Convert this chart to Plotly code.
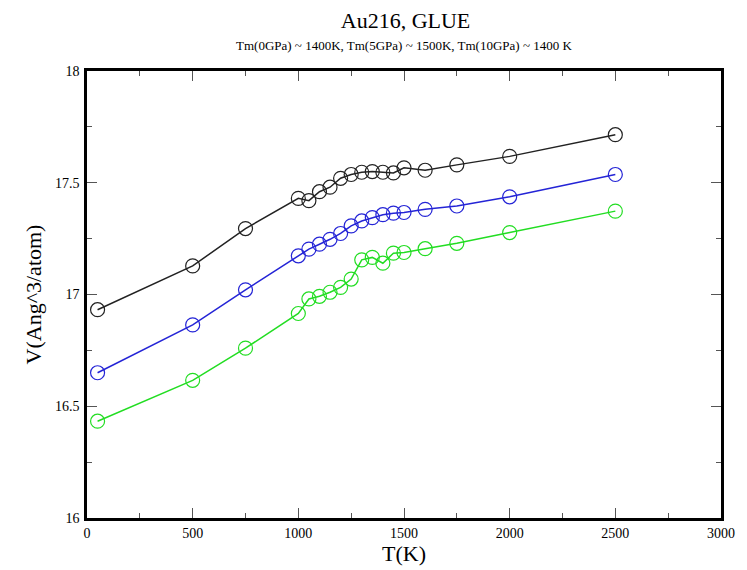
import plotly.graph_objects as go

# Temperatures (K)
temperature = [50, 500, 750, 1000, 1050, 1100, 1150, 1200, 1250, 1300,
               1350, 1400, 1450, 1500, 1600, 1750, 2000, 2500]

# Volume per atom (Ang^3/atom) at three pressures
vol_0gpa = [16.932, 17.128, 17.295, 17.43, 17.42, 17.46, 17.48, 17.52, 17.537, 17.547,
            17.55, 17.547, 17.544, 17.567, 17.556, 17.58, 17.618, 17.715]
vol_5gpa = [16.65, 16.864, 17.021, 17.173, 17.203, 17.225, 17.247, 17.273, 17.307, 17.329,
            17.344, 17.357, 17.364, 17.367, 17.381, 17.396, 17.437, 17.537]
vol_10gpa = [16.433, 16.616, 16.76, 16.915, 16.98, 16.992, 17.01, 17.032, 17.069, 17.155,
             17.166, 17.14, 17.185, 17.188, 17.205, 17.229, 17.277, 17.373]

# Axis tick labels
x_ticks = [0, 500, 1000, 1500, 2000, 2500, 3000]
y_ticks = [16, 16.5, 17, 17.5, 18]
y_tick_text = ["16", "16.5", "17", "17.5", "18"]

series = [
    ("0 GPa", vol_0gpa, "#222222"),
    ("5 GPa", vol_5gpa, "#2424d6"),
    ("10 GPa", vol_10gpa, "#22dd22"),
]

FONT = "Liberation Serif"

fig = go.Figure()
for name, vals, color in series:
    fig.add_trace(go.Scatter(
        x=temperature, y=vals, name=name, mode="lines+markers",
        line=dict(color=color, width=1.5),
        marker=dict(symbol="circle-open", size=14, color=color,
                    line=dict(width=1.2, color=color)),
        showlegend=False,
    ))

axis_common = dict(
    showgrid=False, zeroline=False, showline=True, linecolor="black",
    linewidth=2.5, mirror="allticks", ticks="inside", ticklen=10,
    tickwidth=1, tickcolor="#555555",
    tickfont=dict(family=FONT, size=14, color="black"),
)

fig.update_xaxes(
    range=[0, 3000], tickvals=x_ticks, ticktext=[str(v) for v in x_ticks],
    minor=dict(ticks="inside", ticklen=5, dtick=250, tickcolor="#555555"),
    title=dict(text="T(K)", font=dict(family=FONT, size=22, color="black"),
               standoff=2),
    ticklabelstandoff=0,
    **axis_common,
)
fig.update_yaxes(
    range=[16, 18], tickvals=y_ticks, ticktext=y_tick_text,
    minor=dict(ticks="inside", ticklen=5, dtick=0.25, tickcolor="#555555"),
    title=dict(text="V(Ang^3/atom)", font=dict(family=FONT, size=22, color="black"),
               standoff=8),
    ticklabelstandoff=2,
    **axis_common,
)

fig.update_layout(
    width=747, height=570,
    margin=dict(l=87, r=23, t=71, b=50),
    paper_bgcolor="white", plot_bgcolor="white",
    title=dict(text="Au216, GLUE", x=0.5429, xanchor="center", y=0.965,
               yanchor="middle", font=dict(family=FONT, size=22, color="black")),
    annotations=[dict(
        text="Tm(0GPa) ~ 1400K, Tm(5GPa) ~ 1500K, Tm(10GPa) ~ 1400 K",
        xref="paper", yref="paper", x=0.5, y=1.058, xanchor="center",
        yanchor="middle", showarrow=False,
        font=dict(family=FONT, size=13, color="black"),
    )],
)

fig.write_html("out.html")
